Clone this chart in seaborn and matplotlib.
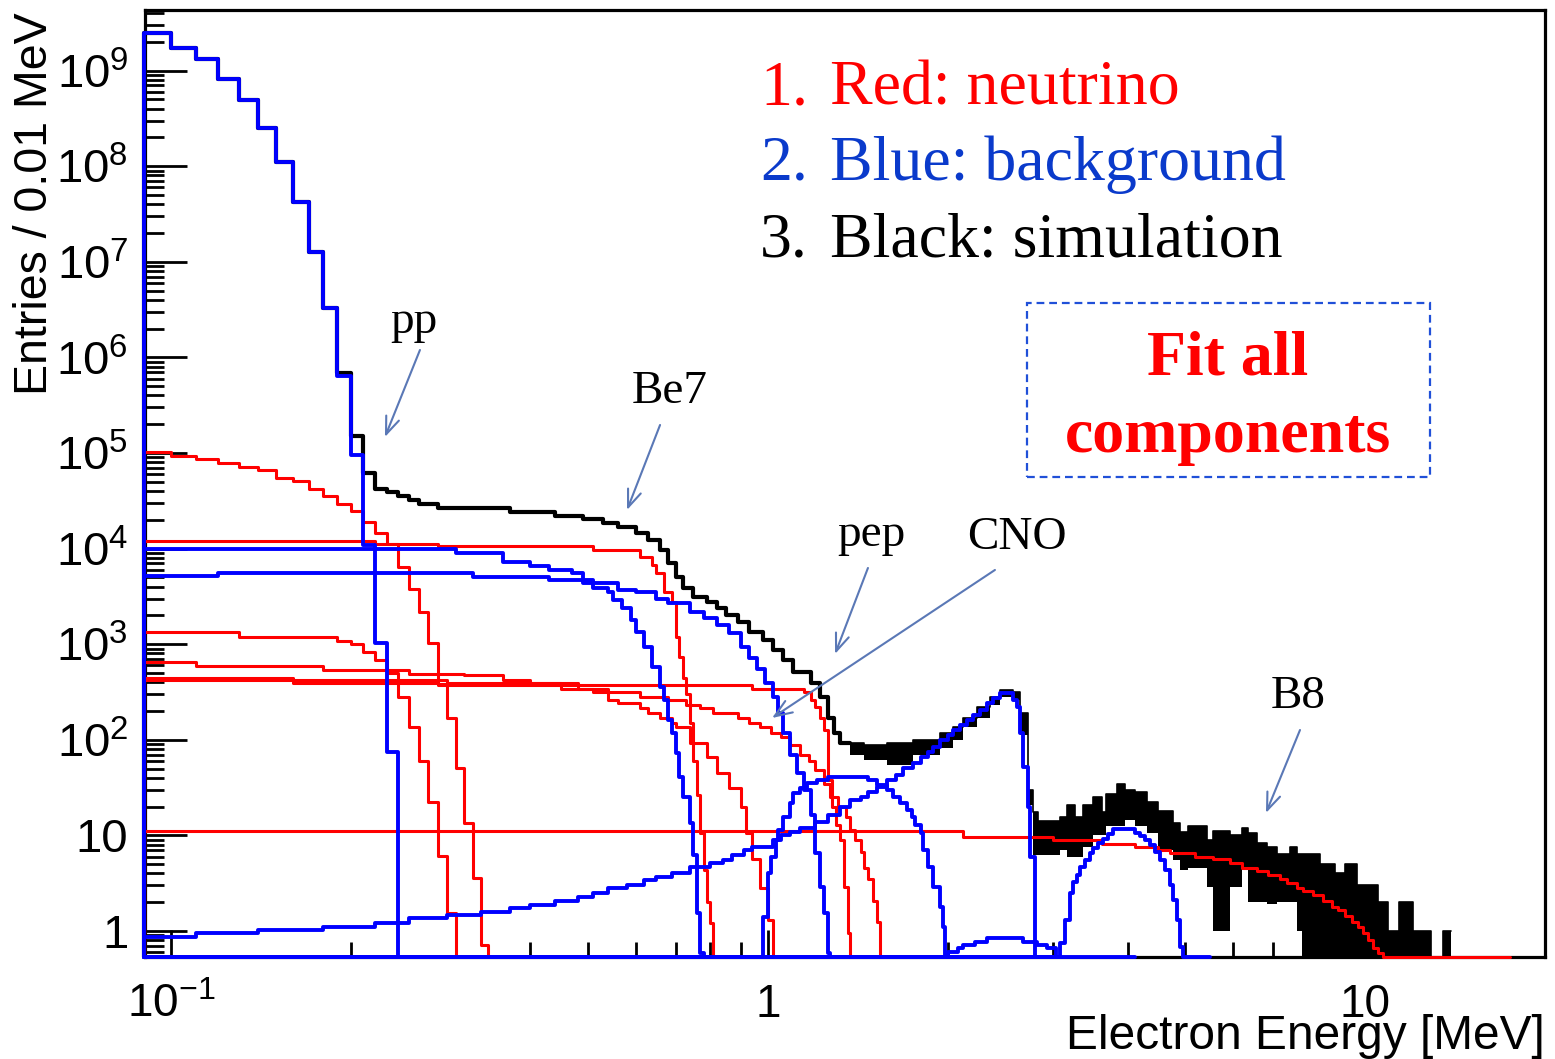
import numpy as np
import pandas as pd
import matplotlib
matplotlib.use("Agg")
import matplotlib.pyplot as plt
from matplotlib.patches import Rectangle
from matplotlib.ticker import FixedLocator, FixedFormatter, LogLocator, NullFormatter
import seaborn as sns

# ---------------------------------------------------------------------------
# Spectra: left bin edge [MeV] and entries per 0.01 MeV (0 = empty bin)
# ---------------------------------------------------------------------------
# backgrounds (blue)
c14_energy = [0.09, 0.10, 0.11, 0.12, 0.13, 0.14, 0.15, 0.16, 0.17, 0.18, 0.19,
              0.20, 0.21, 0.22, 0.23, 0.24]
c14_counts = [2.47e9, 1.72e9, 1.32e9, 8.2e8, 4.9e8, 2.5e8, 1.1e8, 4.2e7, 1.26e7,
              3.3e6, 6.4e5, 9.5e4, 1.09e4, 1.04e3, 74, 0]

kr85_energy = [0.09, 0.12, 0.32, 0.43, 0.49, 0.51, 0.54, 0.55, 0.57, 0.59, 0.60,
               0.62, 0.64, 0.66, 0.67, 0.68, 0.69, 0.70, 0.71, 0.72, 0.74, 0.75,
               0.76, 0.77, 0.78]
kr85_counts = [5.2e3, 5.6e3, 5.05e3, 4.7e3, 4.4e3, 3.9e3, 3.5e3, 2.9e3, 2.4e3,
               1.8e3, 1.33e3, 935, 578, 357, 261, 161, 118, 73.6, 40.8, 25.2,
               13.6, 6.3, 1.56, 0.59, 0]

bi210_energy = [0.09, 0.30, 0.36, 0.40, 0.43, 0.47, 0.49, 0.51, 0.56, 0.60, 0.65,
                0.68, 0.74, 0.78, 0.82, 0.86, 0.90, 0.93, 0.96, 0.99, 1.02, 1.04,
                1.06, 1.09, 1.12, 1.15, 1.18, 1.20, 1.22, 1.24, 1.26, 1.27]
bi210_counts = [1.0e4, 9.0e3, 7.2e3, 6.6e3, 6.0e3, 5.6e3, 4.7e3, 4.4e3, 3.7e3,
                3.5e3, 3.0e3, 2.7e3, 2.15e3, 1.9e3, 1.6e3, 1.3e3, 935, 715, 544,
                397, 280, 190, 118, 69, 45, 29.8, 16.4, 6.5, 2.9, 1.56, 0.59, 0]

c11_energy = [0.09, 0.11, 0.14, 0.18, 0.22, 0.25, 0.29, 0.33, 0.37, 0.40, 0.44,
              0.48, 0.51, 0.54, 0.58, 0.62, 0.65, 0.69, 0.74, 0.80, 0.84, 0.87,
              0.91, 0.94, 1.02, 1.05, 1.09, 1.13, 1.20, 1.26, 1.32, 1.37, 1.43,
              1.47, 1.52, 1.58, 1.64, 1.68, 1.75, 1.80, 1.85, 1.89, 1.94, 2.00,
              2.04, 2.10, 2.15, 2.20, 2.26, 2.33, 2.38, 2.45, 2.57, 2.61, 2.64,
              2.67, 2.72, 2.75, 2.80]
c11_counts = [0.87, 0.95, 1.02, 1.10, 1.21, 1.37, 1.47, 1.58, 1.74, 1.87, 2.06,
              2.27, 2.5, 2.82, 3.03, 3.42, 3.67, 4.04, 4.67, 5.14, 5.52, 6.25,
              7.04, 7.56, 8.95, 10.1, 10.8, 11.9, 13.8, 16.4, 19.8, 23.5, 25.2,
              28.4, 32.2, 38.0, 42.8, 51.3, 57.1, 65.9, 74.1, 83.5, 99.5, 112,
              127, 143, 161, 182, 205, 243, 275, 310, 261, 220, 118, 51.9, 19.8,
              5.95, 0]

po_energy = [0.09, 0.98, 1.00, 1.01, 1.03, 1.04, 1.06, 1.09, 1.10, 1.13, 1.16,
             1.21, 1.26, 1.47, 1.52, 1.58, 1.62, 1.66, 1.71, 1.74, 1.76, 1.80,
             1.82, 1.85, 1.89, 1.94, 1.96, 1.98]
po_counts = [0, 1.40, 4.04, 5.95, 8.95, 11.4, 15.6, 21.8, 27.9, 31.3, 35.3, 38.0,
             40.8, 38.0, 33.7, 29.8, 25.2, 21.8, 18.4, 15.6, 12.9, 10.6, 7.0,
             4.67, 2.88, 1.78, 1.10, 0]

ext_energy = [0.09, 2.00, 2.08, 2.12, 2.22, 2.33, 2.67, 2.82, 2.93, 3.03]
ext_counts = [0, 0.60, 0.66, 0.71, 0.77, 0.85, 0.77, 0.71, 0.66, 0]

c10_energy = [0.09, 3.08, 3.14, 3.20, 3.24, 3.29, 3.33, 3.39, 3.46, 3.50, 3.57,
              3.64, 3.71, 3.78, 4.12, 4.20, 4.28, 4.36, 4.45, 4.54, 4.62, 4.71,
              4.77, 4.84, 4.90, 4.96]
c10_counts = [0, 0.75, 1.30, 2.5, 3.26, 3.85, 4.67, 5.52, 6.55, 7.37, 8.32, 9.16,
              10.3, 11.7, 10.6, 9.85, 8.95, 7.94, 6.7, 5.52, 4.35, 3.03, 2.11,
              1.30, 0.68, 0]

# solar neutrinos (red)
pp_energy = [0.09, 0.10, 0.11, 0.12, 0.13, 0.14, 0.15, 0.16, 0.17, 0.18, 0.19,
             0.20, 0.21, 0.22, 0.23, 0.24, 0.25, 0.26, 0.27, 0.28, 0.29, 0.30,
             0.31, 0.32, 0.33, 0.34]
pp_counts = [1.02e5, 9.3e4, 8.7e4, 7.9e4, 7.1e4, 6.6e4, 5.5e4, 5.1e4, 4.2e4,
             3.55e4, 2.96e4, 2.47e4, 1.9e4, 1.46e4, 1.13e4, 6.4e3, 3.8e3, 2.15e3,
             1.04e3, 380, 168, 51, 13.6, 3.6, 0.71, 0]

be7_energy = [0.09, 0.22, 0.28, 0.51, 0.61, 0.64, 0.65, 0.67, 0.69, 0.70, 0.71,
              0.72, 0.73, 0.74, 0.75, 0.76, 0.77, 0.78, 0.79, 0.80, 0.81]
be7_counts = [1.2e4, 1.13e4, 1.06e4, 9.7e3, 8.1e3, 6.7e3, 5.5e3, 3.5e3, 2.76e3,
              1.18e3, 735, 443, 300, 150, 60, 26.5, 10.6, 4.3, 2.0, 1.2, 0]

be7b_energy = [0.09, 0.13, 0.19, 0.20, 0.21, 0.22, 0.23, 0.24, 0.25, 0.26, 0.27,
               0.28, 0.29, 0.30]
be7b_counts = [1.33e3, 1.2e3, 1.09e3, 1.0e3, 830, 690, 505, 280, 135, 60, 22.6,
               6.1, 1.54, 0]

pep_energy = [0.09, 0.16, 0.28, 0.94, 1.15, 1.18, 1.20, 1.22, 1.24, 1.26, 1.28,
              1.30, 1.32, 1.34, 1.36, 1.37]
pep_counts = [427, 397, 374, 344, 313, 261, 220, 171, 127, 38, 20, 13, 9, 2.9,
              0.95, 0]

n13_energy = [0.09, 0.11, 0.18, 0.25, 0.31, 0.36, 0.40, 0.48, 0.51, 0.54, 0.56,
              0.61, 0.63, 0.66, 0.69, 0.70, 0.74, 0.79, 0.82, 0.86, 0.90, 0.92,
              0.94, 0.97, 1.00, 1.02]
n13_counts = [644, 590, 534, 487, 476, 427, 397, 344, 313, 261, 243, 215, 193,
              171, 150, 135, 92.6, 66, 45, 31.3, 19.6, 10.7, 5.7, 2.85, 1.3, 0]

o15_energy = [0.09, 0.16, 0.29, 0.45, 0.54, 0.61, 0.68, 0.73, 0.77, 0.81, 0.89,
              0.93, 0.97, 1.01, 1.05, 1.09, 1.13, 1.17, 1.20, 1.24, 1.27, 1.31,
              1.35, 1.37, 1.40, 1.43, 1.45, 1.47, 1.50, 1.52, 1.54]
o15_counts = [443, 420, 397, 344, 313, 280, 261, 231, 215, 193, 171, 150, 135,
              118, 106, 88, 69, 60, 48, 34.5, 25.2, 19.6, 15.6, 11.3, 9, 6.7, 4.6,
              3.46, 2.08, 1.23, 0]

b8_energy = [0.09, 2.12, 3.00, 3.63, 4.12, 4.50, 4.71, 5.18, 5.56, 5.94, 6.22,
             6.59, 6.88, 7.20, 7.40, 7.69, 7.87, 8.18, 8.51, 8.81, 9.01, 9.26,
             9.51, 9.73, 9.92, 10.1, 10.3, 10.5, 10.7]
b8_counts = [11.1, 9.7, 9.06, 8.2, 7.5, 7.0, 6.6, 6.0, 5.7, 5.1, 4.6, 4.2, 3.85,
             3.46, 3.2, 2.85, 2.65, 2.38, 2.08, 1.8, 1.64, 1.45, 1.23, 1.1, 0.95,
             0.8, 0.67, 0.59, 0]

# simulated total (black): smooth part, then fluctuating part as min/max band
sim_energy = [0.09, 0.10, 0.11, 0.12, 0.13, 0.14, 0.15, 0.16, 0.17, 0.18, 0.19,
              0.20, 0.21, 0.22, 0.23, 0.24, 0.25, 0.26, 0.28, 0.37, 0.44, 0.49,
              0.53, 0.56, 0.60, 0.63, 0.66, 0.68, 0.70, 0.72, 0.75, 0.79, 0.82,
              0.85, 0.89, 0.93, 0.98, 1.02, 1.06, 1.10, 1.18, 1.22, 1.26, 1.29,
              1.32]
sim_counts = [2.47e9, 1.72e9, 1.32e9, 8.2e8, 4.9e8, 2.5e8, 1.1e8, 4.2e7, 1.26e7,
              3.3e6, 6.9e5, 1.49e5, 6.2e4, 4.2e4, 3.9e4, 3.55e4, 3.2e4, 2.9e4,
              2.66e4, 2.4e4, 2.19e4, 2.04e4, 1.85e4, 1.68e4, 1.46e4, 1.23e4,
              9.7e3, 7.1e3, 5.05e3, 3.9e3, 3.1e3, 2.76e3, 2.4e3, 2.0e3, 1.69e3,
              1.33e3, 1.1e3, 880, 684, 506, 397, 280, 171, 118, 92.6]

sim_band_energy = [1.37, 1.45, 1.58, 1.75, 1.94, 2.04, 2.12, 2.24, 2.35, 2.45,
                   2.57, 2.64, 2.72, 2.78, 2.83, 3.08, 3.17, 3.27, 3.37, 3.50,
                   3.63, 3.68, 3.84, 3.96, 4.12, 4.31, 4.50, 4.77, 4.90, 5.05,
                   5.44, 5.56, 5.94, 6.22, 6.37, 6.59, 6.85, 7.12, 7.49, 7.69,
                   7.85, 8.41, 8.57, 8.91, 9.26, 9.70, 10.1, 10.5, 10.9, 11.4,
                   12.0, 12.9, 13.5]
sim_band_high = [92.6, 88, 92.6, 99.5, 118, 135, 171, 220, 280, 332, 313, 193,
                 29.8, 17.4, 14.1, 15.6, 20.8, 15.6, 20.8, 25.2, 17.4, 27.4, 34.6,
                 29.8, 28.4, 22.3, 18, 13.5, 10.8, 12.5, 9, 11.1, 10.1, 12, 10.6,
                 8.3, 7.5, 6.4, 7.5, 6.4, 6.4, 5, 5, 4, 5, 3, 3, 2, 1, 2, 1, 0, 1]
sim_band_low = [69, 61.5, 54.5, 69, 83, 99.5, 135, 171, 231, 280, 261, 112, 20.8,
                6.3, 6.3, 7, 6, 6, 7.5, 10.2, 10.2, 12.5, 12.5, 14.5, 12.5, 10.6,
                7, 5.5, 4.3, 4.6, 2.9, 1, 2.9, 4.6, 2, 2, 1.9, 2, 2, 1, 0, 0, 0,
                0, 0, 0, 0, 0, 0, 0, 0, 0, 0]

# axis ticks
y_tick_values = [1, 1e1, 1e2, 1e3, 1e4, 1e5, 1e6, 1e7, 1e8, 1e9]
y_tick_labels = ["1", "10", "$10^{2}$", "$10^{3}$", "$10^{4}$", "$10^{5}$",
                 "$10^{6}$", "$10^{7}$", "$10^{8}$", "$10^{9}$"]
x_tick_values = [0.1, 1, 10]
x_tick_labels = ["$10^{-1}$", "1", "10"]

legend_items = [("1.", "Red: neutrino", "#FF0000"),
                ("2.", "Blue: background", "#0A3ACB"),
                ("3.", "Black: simulation", "#000000")]

# ---------------------------------------------------------------------------
sns.set_theme(style="white")
plt.rcParams["font.family"] = ["Liberation Sans", "DejaVu Sans"]
plt.rcParams["mathtext.fontset"] = "custom"
plt.rcParams["mathtext.rm"] = "Liberation Sans"
plt.rcParams["mathtext.it"] = "Liberation Sans:italic"
plt.rcParams["mathtext.bf"] = "Liberation Sans:bold"

RED, BLUE = "#FF0000", "#0000FF"
FLOOR = 0.535
SERIF = ["Liberation Serif", "DejaVu Serif"]

fig = plt.figure(figsize=(15.55, 10.59), dpi=100)
fig.patch.set_facecolor("white")
ax = fig.add_axes([145 / 1555, 102 / 1059, 1400 / 1555, 947 / 1059])
ax.set_xscale("log")
ax.set_yscale("log")
ax.set_xlim(0.0905, 20.0)
ax.set_ylim(FLOOR, 4.3e9)


def step_frame(energy, counts, end):
    """Histogram outline that starts on the frame floor, as ROOT draws it."""
    e = [energy[0]] + list(energy) + [end]
    c = [0.0] + list(counts) + [counts[-1]]
    return pd.DataFrame({"energy": e,
                         "counts": np.clip(np.asarray(c, float), FLOOR, None)})


def draw(energy, counts, end, color, lw, z):
    sns.lineplot(data=step_frame(energy, counts, end), x="energy", y="counts",
                 drawstyle="steps-post", estimator=None, sort=False,
                 color=color, linewidth=lw, zorder=z, clip_on=False, ax=ax)


# simulated total
draw(sim_energy, sim_counts, 1.37, "black", 3.0, 3)
band_e = list(sim_band_energy) + [13.9]
band_hi = np.clip(list(sim_band_high) + [sim_band_high[-1]], FLOOR, None)
band_lo = np.clip(list(sim_band_low) + [sim_band_low[-1]], FLOOR, None)
ax.fill_between(band_e, band_lo, band_hi, step="post", color="black",
                linewidth=0, zorder=3)
ax.step(band_e, band_hi, where="post", color="black", lw=1.2, zorder=3)

# neutrino components
for e, c, end in [(pp_energy, pp_counts, 0.34), (be7_energy, be7_counts, 0.81),
                  (be7b_energy, be7b_counts, 0.30), (pep_energy, pep_counts, 1.37),
                  (n13_energy, n13_counts, 1.02), (o15_energy, o15_counts, 1.54),
                  (b8_energy, b8_counts, 17.5)]:
    draw(e, c, end, RED, 2.2, 4)

# background components
for e, c, end in [(c14_energy, c14_counts, 4.12), (kr85_energy, kr85_counts, 0.78),
                  (bi210_energy, bi210_counts, 1.27), (c11_energy, c11_counts, 2.80),
                  (po_energy, po_counts, 1.98), (ext_energy, ext_counts, 3.03),
                  (c10_energy, c10_counts, 5.50)]:
    draw(e, c, end, BLUE, 2.8, 5)

# axes, ticks
ax.set_xlabel("")
ax.set_ylabel("")
for s in ax.spines.values():
    s.set_visible(True)
    s.set_color("black")
    s.set_linewidth(2.3)
ax.yaxis.set_major_locator(FixedLocator(y_tick_values))
ax.yaxis.set_major_formatter(FixedFormatter(y_tick_labels))
ax.yaxis.set_minor_locator(LogLocator(base=10, subs=np.arange(2, 10), numticks=100))
ax.yaxis.set_minor_formatter(NullFormatter())
ax.xaxis.set_major_locator(FixedLocator(x_tick_values))
ax.xaxis.set_major_formatter(FixedFormatter(x_tick_labels))
ax.xaxis.set_minor_locator(LogLocator(base=10, subs=np.arange(2, 10), numticks=100))
ax.xaxis.set_minor_formatter(NullFormatter())
ax.tick_params(axis="both", which="both", direction="in", colors="black",
               left=True, bottom=True, top=False, right=False)
ax.tick_params(axis="y", which="major", length=30, width=2.0, pad=12, labelsize=34)
ax.tick_params(axis="y", which="minor", length=13.5, width=2.0)
ax.tick_params(axis="x", which="major", length=19.5, width=2.0, pad=19, labelsize=33)
ax.tick_params(axis="x", which="minor", length=11, width=2.0)

fig.text(1545 / 1555, 1 - 1049 / 1059, "Electron Energy [MeV]", ha="right",
         va="baseline", fontsize=34.5, color="black")
fig.text(35 / 1555, 1 - 12 / 1059, "Entries / 0.01 MeV", rotation=90,
         ha="center", va="top", fontsize=33.5, color="black")

# colour key
for (num, txt, col), yb in zip(legend_items, [0.9007, 0.8205, 0.7392]):
    ax.text(0.4393, yb, num, transform=ax.transAxes, ha="left", va="baseline",
            fontsize=46, color=col, family=SERIF, zorder=7)
    ax.text(0.4893, yb, txt, transform=ax.transAxes, ha="left", va="baseline",
            fontsize=46, color=col, family=SERIF, zorder=7)

# dashed box
ax.add_patch(Rectangle((0.63, 0.5069), 0.2879, 0.1837, transform=ax.transAxes,
                       fill=False, edgecolor="#2050D8", linewidth=1.6,
                       linestyle=(0, (3.5, 2.2)), zorder=6, clip_on=False))
ax.text(0.7736, 0.6146, "Fit all", transform=ax.transAxes, ha="center",
        va="baseline", fontsize=46, fontweight="bold", color=RED, family=SERIF)
ax.text(0.7736, 0.5333, "components", transform=ax.transAxes, ha="center",
        va="baseline", fontsize=46, fontweight="bold", color=RED, family=SERIF)

# component labels with arrows
labels = [("pp", (0.1921, 0.6589), (0.1964, 0.641), (0.1714, 0.5491)),
          ("Be7", (0.3746, 0.585), (0.3679, 0.5618), (0.3443, 0.4720)),
          ("pep", (0.5186, 0.434), (0.5164, 0.4108), (0.4929, 0.3200)),
          ("CNO", (0.6229, 0.4308), (0.6071, 0.4087), (0.4479, 0.2524)),
          ("B8", (0.8236, 0.2629), (0.825, 0.2397), (0.8007, 0.1521))]
for name, pos, tail, head in labels:
    ax.text(pos[0], pos[1], name, transform=ax.transAxes, ha="center",
            va="baseline", fontsize=34, color="black", family=SERIF, zorder=7)
    ax.annotate("", xy=head, xytext=tail, xycoords="axes fraction",
                textcoords="axes fraction", zorder=7,
                arrowprops=dict(arrowstyle="->,head_length=0.9,head_width=0.35",
                                color="#5A78B6", lw=1.5, mutation_scale=14,
                                shrinkA=0, shrinkB=0))

fig.savefig("out.png", dpi=100, facecolor="white")
